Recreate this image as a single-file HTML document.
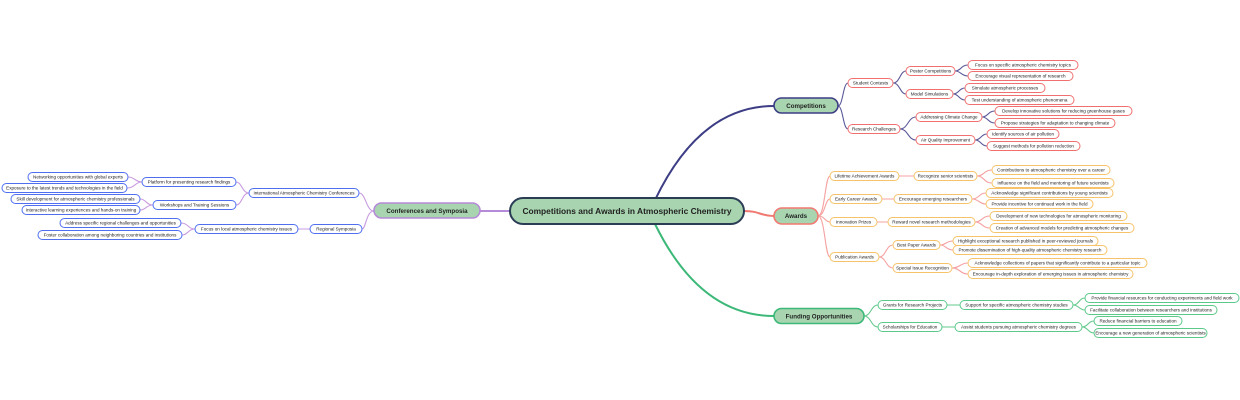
<!DOCTYPE html>
<html><head><meta charset="utf-8"><style>
html,body{margin:0;padding:0;background:#fff;}
svg{display:block;}
text{font-family:"Liberation Sans",sans-serif;text-anchor:middle;fill:#222;}
.s{font-size:4.6px;}
</style></head><body>
<svg width="1240" height="400" viewBox="0 0 1240 400" xmlns="http://www.w3.org/2000/svg">
<g fill="none" stroke-linecap="round">
<path d="M655,200 Q700,106 774,106" stroke="#3d3d85" stroke-width="2"/>
<path d="M744,211 C760,211 760,216 774,216" stroke="#f07870" stroke-width="2"/>
<path d="M655,224 Q700,316 774,316" stroke="#3cb878" stroke-width="2"/>
<path d="M510,211 L480,211" stroke="#b58ad8" stroke-width="2"/>
<g stroke="#5a5a9a" stroke-width="1.1">
<path d="M838,106 C843,106 843,83 848,83"/><path d="M838,106 C843,106 843,129 848,129"/>
<path d="M893,83 C900,83 900,71 906,71"/><path d="M893,83 C900,83 900,94 906,94"/>
<path d="M955,71 C961,71 961,65 968,65"/><path d="M955,71 C961,71 961,76 968,76"/>
<path d="M953,94 C959,94 959,88 965,88"/><path d="M953,94 C959,94 959,100 965,100"/>
<path d="M900,129 C908,129 908,117 916,117"/><path d="M900,129 C908,129 908,140 916,140"/>
<path d="M982,117 C988,117 988,111 995,111"/><path d="M982,117 C988,117 988,123 995,123"/>
<path d="M975,140 C981,140 981,134 987,134"/><path d="M975,140 C981,140 981,146 987,146"/>
</g>
<g stroke="#f5a0a0" stroke-width="1.1">
<path d="M818,216 C825,216 825,176 830,176"/><path d="M818,216 C825,216 825,199 830,199"/>
<path d="M818,216 C825,216 825,222 830,222"/><path d="M818,216 C825,216 825,257 830,257"/>
<path d="M899,176 L914,176"/><path d="M977,176 C984,176 984,170 992,170"/><path d="M977,176 C984,176 984,183 992,183"/>
<path d="M882,199 L894,199"/><path d="M972,199 C979,199 979,193 986,193"/><path d="M972,199 C979,199 979,204 986,204"/>
<path d="M877,222 L888,222"/><path d="M975,222 C982,222 982,216 990,216"/><path d="M975,222 C982,222 982,228 990,228"/>
<path d="M879,257 C886,257 886,245 893,245"/><path d="M879,257 C886,257 886,268 893,268"/>
<path d="M940,245 C946,245 946,241 953,241"/><path d="M940,245 C946,245 946,250 953,250"/>
<path d="M952,268 C960,268 960,263 968,263"/><path d="M952,268 C960,268 960,274 968,274"/>
</g>
<g stroke="#66c98e" stroke-width="1.1">
<path d="M864,316 C871,316 871,305 878,305"/><path d="M864,316 C871,316 871,327 878,327"/>
<path d="M947,305 L960,305"/><path d="M1073,305 C1079,305 1079,298 1085,298"/><path d="M1073,305 C1079,305 1079,310 1085,310"/>
<path d="M942,327 L955,327"/><path d="M1082,327 C1088,327 1088,321 1094,321"/><path d="M1082,327 C1088,327 1088,333 1094,333"/>
</g>
<g stroke="#c89be0" stroke-width="1.1">
<path d="M374,211 C366,211 366,193 359,193"/><path d="M374,211 C366,211 366,229 362,229"/>
<path d="M249,193 C242,193 242,182 236,182"/><path d="M249,193 C242,193 242,205 236,205"/>
<path d="M142,182 C135,182 135,177 128,177"/><path d="M142,182 C135,182 135,188 127,188"/>
<path d="M153,205 C146,205 146,199 140,199"/><path d="M153,205 C146,205 146,210 140,210"/>
<path d="M310,229 L298,229"/>
<path d="M195,229 C188,229 188,223 181,223"/><path d="M195,229 C188,229 188,235 182,235"/>
</g>
</g>

<rect x="510" y="198" width="234" height="26" rx="13" fill="#a8d5b0" stroke="#2b3d55" stroke-width="2"/>
<text x="627" y="214" font-size="8.4" font-weight="bold">Competitions and Awards in Atmospheric Chemistry</text>
<rect x="774" y="98" width="64" height="15" rx="7.5" fill="#a8d5b0" stroke="#3d3d85" stroke-width="1.6"/>
<text x="806" y="108" font-size="6.2" font-weight="bold">Competitions</text>
<rect x="774" y="208" width="44" height="16" rx="8" fill="#a8d5b0" stroke="#f07870" stroke-width="1.6"/>
<text x="796" y="218.2" font-size="6.2" font-weight="bold">Awards</text>
<rect x="774" y="308.5" width="90" height="15" rx="7.5" fill="#a8d5b0" stroke="#3cb878" stroke-width="1.6"/>
<text x="819" y="318.3" font-size="6.2" font-weight="bold">Funding Opportunities</text>
<rect x="374" y="203" width="106" height="15" rx="7.5" fill="#a8d5b0" stroke="#b58ad8" stroke-width="1.6"/>
<text x="427" y="212.8" font-size="6.2" font-weight="bold">Conferences and Symposia</text>

<g fill="#fff" stroke="#f07070" stroke-width="1">
<rect x="848" y="78.5" width="45" height="9" rx="4.5"/><rect x="848" y="124.5" width="52" height="9" rx="4.5"/>
<rect x="906" y="66.5" width="49" height="9" rx="4.5"/><rect x="906" y="89.5" width="47" height="9" rx="4.5"/>
<rect x="968" y="60.5" width="110" height="9" rx="4.5"/><rect x="968" y="71.5" width="105" height="9" rx="4.5"/>
<rect x="965" y="83.5" width="80" height="9" rx="4.5"/><rect x="965" y="95.5" width="109" height="9" rx="4.5"/>
<rect x="916" y="112.5" width="66" height="9" rx="4.5"/><rect x="916" y="135.5" width="59" height="9" rx="4.5"/>
<rect x="995" y="106.5" width="137" height="9" rx="4.5"/><rect x="995" y="118.5" width="120" height="9" rx="4.5"/>
<rect x="987" y="129.5" width="72" height="9" rx="4.5"/><rect x="987" y="141.5" width="93" height="9" rx="4.5"/>
</g>
<g>
<text x="870.5" y="84.7" class="s">Student Contests</text><text x="874" y="130.7" class="s">Research Challenges</text>
<text x="930.5" y="72.7" class="s">Poster Competitions</text><text x="929.5" y="95.7" class="s">Model Simulations</text>
<text x="1023" y="66.7" class="s">Focus on specific atmospheric chemistry topics</text><text x="1020.5" y="77.7" class="s">Encourage visual representation of research</text>
<text x="1005" y="89.7" class="s">Simulate atmospheric processes</text><text x="1019.5" y="101.7" class="s">Test understanding of atmospheric phenomena</text>
<text x="949" y="118.7" class="s">Addressing Climate Change</text><text x="945.5" y="141.7" class="s">Air Quality Improvement</text>
<text x="1063.5" y="112.7" class="s">Develop innovative solutions for reducing greenhouse gases</text><text x="1055" y="124.7" class="s">Propose strategies for adaptation to changing climate</text>
<text x="1023" y="135.7" class="s">Identify sources of air pollution</text><text x="1033.5" y="147.7" class="s">Suggest methods for pollution reduction</text>
</g>

<g fill="#fff" stroke="#f7c36a" stroke-width="1">
<rect x="830" y="171.5" width="69" height="9" rx="4.5"/><rect x="914" y="171.5" width="63" height="9" rx="4.5"/>
<rect x="992" y="165.5" width="118" height="9" rx="4.5"/><rect x="992" y="178.5" width="122" height="9" rx="4.5"/>
<rect x="830" y="194.5" width="52" height="9" rx="4.5"/><rect x="894" y="194.5" width="78" height="9" rx="4.5"/>
<rect x="986" y="188.5" width="127" height="9" rx="4.5"/><rect x="986" y="199.5" width="107" height="9" rx="4.5"/>
<rect x="830" y="217.5" width="47" height="9" rx="4.5"/><rect x="888" y="217.5" width="87" height="9" rx="4.5"/>
<rect x="990" y="211.5" width="137" height="9" rx="4.5"/><rect x="990" y="223.5" width="144" height="9" rx="4.5"/>
<rect x="830" y="252.5" width="49" height="9" rx="4.5"/><rect x="893" y="240.5" width="47" height="9" rx="4.5"/>
<rect x="893" y="263.5" width="59" height="9" rx="4.5"/>
<rect x="953" y="236.5" width="145" height="9" rx="4.5"/><rect x="953" y="245.5" width="154" height="9" rx="4.5"/>
<rect x="968" y="258.5" width="179" height="9" rx="4.5"/><rect x="968" y="269.5" width="165" height="9" rx="4.5"/>
</g>
<g>
<text x="864.5" y="177.7" class="s">Lifetime Achievement Awards</text><text x="945.5" y="177.7" class="s">Recognize senior scientists</text>
<text x="1051" y="171.7" class="s">Contributions to atmospheric chemistry over a career</text><text x="1053" y="184.7" class="s">Influence on the field and mentoring of future scientists</text>
<text x="856" y="200.7" class="s">Early Career Awards</text><text x="933" y="200.7" class="s">Encourage emerging researchers</text>
<text x="1049.5" y="194.7" class="s">Acknowledge significant contributions by young scientists</text><text x="1039.5" y="205.7" class="s">Provide incentive for continued work in the field</text>
<text x="853.5" y="223.7" class="s">Innovation Prizes</text><text x="931.5" y="223.7" class="s">Reward novel research methodologies</text>
<text x="1058.5" y="217.7" class="s">Development of new technologies for atmospheric monitoring</text><text x="1062" y="229.7" class="s">Creation of advanced models for predicting atmospheric changes</text>
<text x="854.5" y="258.7" class="s">Publication Awards</text><text x="916.5" y="246.7" class="s">Best Paper Awards</text>
<text x="922.5" y="269.7" class="s">Special Issue Recognition</text>
<text x="1025.5" y="242.7" class="s">Highlight exceptional research published in peer-reviewed journals</text><text x="1030" y="251.7" class="s">Promote dissemination of high-quality atmospheric chemistry research</text>
<text x="1057.5" y="264.7" class="s">Acknowledge collections of papers that significantly contribute to a particular topic</text><text x="1050.5" y="275.7" class="s">Encourage in-depth exploration of emerging issues in atmospheric chemistry</text>
</g>

<g fill="#fff" stroke="#5cc98a" stroke-width="1">
<rect x="878" y="300.5" width="69" height="9" rx="4.5"/><rect x="960" y="300.5" width="113" height="9" rx="4.5"/>
<rect x="1085" y="293.5" width="154" height="9" rx="4.5"/><rect x="1085" y="305.5" width="132" height="9" rx="4.5"/>
<rect x="878" y="322.5" width="64" height="9" rx="4.5"/><rect x="955" y="322.5" width="127" height="9" rx="4.5"/>
<rect x="1094" y="316.5" width="88" height="9" rx="4.5"/><rect x="1094" y="328.5" width="113" height="9" rx="4.5"/>
</g>
<g>
<text x="912.5" y="306.7" class="s">Grants for Research Projects</text><text x="1016.5" y="306.7" class="s">Support for specific atmospheric chemistry studies</text>
<text x="1162" y="299.7" class="s">Provide financial resources for conducting experiments and field work</text><text x="1151" y="311.7" class="s">Facilitate collaboration between researchers and institutions</text>
<text x="910" y="328.7" class="s">Scholarships for Education</text><text x="1018.5" y="328.7" class="s">Assist students pursuing atmospheric chemistry degrees</text>
<text x="1138" y="322.7" class="s">Reduce financial barriers to education</text><text x="1150.5" y="334.7" class="s">Encourage a new generation of atmospheric scientists</text>
</g>

<g fill="#fff" stroke="#4f6ff0" stroke-width="1">
<rect x="249" y="188.5" width="110" height="9" rx="4.5"/><rect x="310" y="224.5" width="52" height="9" rx="4.5"/>
<rect x="142" y="177.5" width="94" height="9" rx="4.5"/><rect x="153" y="200.5" width="83" height="9" rx="4.5"/>
<rect x="28" y="172.5" width="100" height="9" rx="4.5"/><rect x="2" y="183.5" width="125" height="9" rx="4.5"/>
<rect x="11" y="194.5" width="129" height="9" rx="4.5"/><rect x="22" y="205.5" width="118" height="9" rx="4.5"/>
<rect x="195" y="224.5" width="103" height="9" rx="4.5"/>
<rect x="60" y="218.5" width="121" height="9" rx="4.5"/><rect x="38" y="230.5" width="144" height="9" rx="4.5"/>
</g>
<g>
<text x="304" y="194.7" class="s">International Atmospheric Chemistry Conferences</text><text x="336" y="230.7" class="s">Regional Symposia</text>
<text x="189" y="183.7" class="s">Platform for presenting research findings</text><text x="194.5" y="206.7" class="s">Workshops and Training Sessions</text>
<text x="78" y="178.7" class="s">Networking opportunities with global experts</text><text x="64.5" y="189.7" class="s">Exposure to the latest trends and technologies in the field</text>
<text x="75.5" y="200.7" class="s">Skill development for atmospheric chemistry professionals</text><text x="81" y="211.7" class="s">Interactive learning experiences and hands-on training</text>
<text x="246.5" y="230.7" class="s">Focus on local atmospheric chemistry issues</text>
<text x="120.5" y="224.7" class="s">Address specific regional challenges and opportunities</text><text x="110" y="236.7" class="s">Foster collaboration among neighboring countries and institutions</text>
</g>
</svg>
</body></html>
